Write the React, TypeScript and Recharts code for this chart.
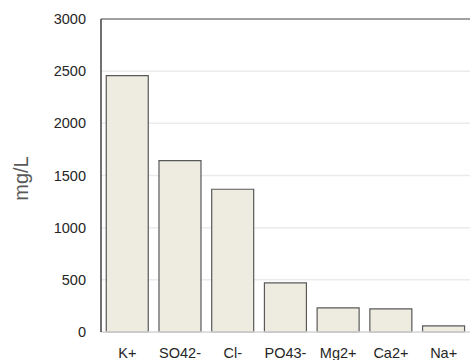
import React from "react";
import { Bar, BarChart, CartesianGrid, ReferenceLine, XAxis, YAxis } from "recharts";

const ions = ["K+", "SO42-", "Cl-", "PO43-", "Mg2+", "Ca2+", "Na+"];
const concentrations = [2458, 1643, 1368, 471, 232, 222, 58];
const yTicks = [0, 500, 1000, 1500, 2000, 2500, 3000];

const data = ions.map((ion, i) => ({ ion, value: concentrations[i] }));

const font = "'Liberation Sans', Arial, sans-serif";

export default function App() {
    return (
        <div style={{ position: "absolute", left: 0, top: 0, background: "#fff" }}>
            <BarChart
                width={471}
                height={360}
                data={data}
                margin={{ top: 19, right: 1, left: 0, bottom: 0 }}
                barCategoryGap="10%"
            >
                <CartesianGrid vertical={false} stroke="#ebebeb" strokeWidth={1.5} />
                <XAxis
                    dataKey="ion"
                    height={28}
                    tickLine={false}
                    tickSize={0}
                    tickMargin={16}
                    axisLine={{ stroke: "#d9d9d9", strokeWidth: 1.5 }}
                    interval={0}
                    tick={{ fill: "#262626", fontSize: 14.5, fontFamily: font }}
                />
                <YAxis
                    width={101}
                    domain={[0, 3000]}
                    ticks={yTicks}
                    tickLine={false}
                    tickSize={0}
                    tickMargin={15}
                    axisLine={{ stroke: "#404040", strokeWidth: 1.5 }}
                    tick={{ fill: "#262626", fontSize: 14.5, fontFamily: font }}
                    label={{
                        content: (props: any) => {
                            const vb = props.viewBox || { x: 0, y: 19, height: 313 };
                            const x = vb.x + 28;
                            const y = vb.y + vb.height / 2 + 3;
                            return (
                                <text
                                    x={x}
                                    y={y}
                                    transform={`rotate(-90 ${x} ${y})`}
                                    textAnchor="middle"
                                    fill="#595959"
                                    fontSize={20}
                                    fontFamily={font}
                                >
                                    mg/L
                                </text>
                            );
                        },
                    }}
                />
                <ReferenceLine y={3000} stroke="#868686" strokeWidth={1.5} />
                <Bar
                    dataKey="value"
                    fill="#EEECE1"
                    stroke="#595959"
                    strokeWidth={1.2}
                    isAnimationActive={false}
                />
            </BarChart>
        </div>
    );
}
